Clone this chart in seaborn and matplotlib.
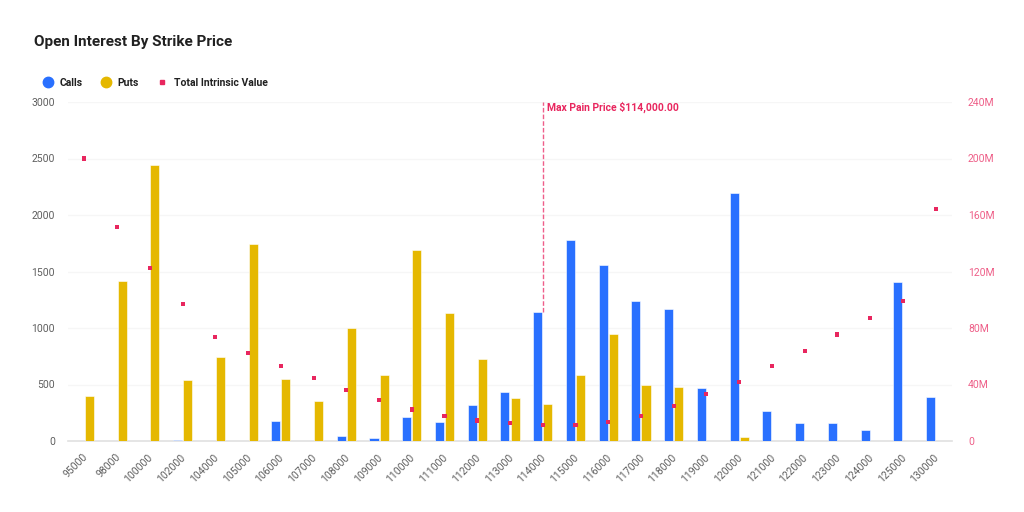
import matplotlib
matplotlib.use("Agg")
import matplotlib.pyplot as plt
import pandas as pd
import seaborn as sns
from matplotlib.lines import Line2D
from matplotlib.ticker import FuncFormatter
from matplotlib.transforms import ScaledTranslation

strikes = ["95000", "98000", "100000", "102000", "104000", "105000", "106000", "107000", "108000",
           "109000", "110000", "111000", "112000", "113000", "114000", "115000", "116000", "117000",
           "118000", "119000", "120000", "121000", "122000", "123000", "124000", "125000", "130000"]
calls = [0, 0, 0, 10, 0, 0, 180, 0, 40, 30, 210, 170, 315, 435, 1140, 1780, 1560, 1240,
         1170, 470, 2195, 265, 155, 160, 95, 1410, 385]
puts = [400, 1420, 2440, 540, 745, 1740, 550, 350, 1000, 580, 1690, 1130, 730, 380, 330, 585, 950, 495,
        480, 0, 35, 0, 0, 0, 0, 0, 0]
# millions
intrinsic = [200, 151.5, 122.5, 97, 73.6, 62.3, 53, 44.6, 36, 29, 22.3, 18, 14.5, 12.7, 11, 11, 13.5, 18,
             24.8, 33.3, 41.8, 53, 63.7, 75.4, 87, 99, 164]
max_pain_strike = "114000"

BLUE = "#2970ff"
GOLD = "#e5b800"
PINK = "#e8265e"
TEXT = "#212121"
TICK = "#5f5f5f"

sns.set_theme(style="white")
plt.rcParams["font.family"] = ["Roboto", "DejaVu Sans"]

bars = pd.DataFrame({"strike": strikes, "Calls": calls, "Puts": puts}).melt(
    id_vars="strike", var_name="side", value_name="oi"
)
dots = pd.DataFrame({"strike": strikes, "value": intrinsic})

fig = plt.figure(figsize=(10.24, 5.12), dpi=100)
ax = fig.add_axes([68 / 1024, 1 - 441 / 512, 884 / 1024, 339 / 512])

sns.barplot(
    data=bars, x="strike", y="oi", hue="side", order=strikes,
    hue_order=["Calls", "Puts"], palette={"Calls": BLUE, "Puts": GOLD},
    width=0.62, gap=0.1, saturation=1, legend=False, ax=ax,
    edgecolor="white", linewidth=0.4, zorder=3,
)
ax.set_xlim(-0.5, len(strikes) - 0.5)
ax.set_ylim(0, 3000)
ax.set_yticks([0, 500, 1000, 1500, 2000, 2500, 3000])
ax.set_xlabel("")
ax.set_ylabel("")
ax.grid(axis="y", color="#f6f6f6", linewidth=1)
ax.set_axisbelow(True)
for side in ["top", "left", "right"]:
    ax.spines[side].set_visible(False)
ax.spines["bottom"].set_color("#e2e2e2")
ax.tick_params(axis="y", length=0, labelsize=7.5, labelcolor=TICK, pad=9.4)
ax.tick_params(axis="x", length=0, labelsize=7.5, labelcolor=TICK, pad=8)
plt.setp(ax.get_xticklabels(), rotation=45, ha="right", rotation_mode="anchor")
# nudge rotated labels 2px left
shift = ScaledTranslation(-2 / 100, 0, fig.dpi_scale_trans)
for label in ax.get_xticklabels():
    label.set_transform(label.get_transform() + shift)

# line stops at the top of the taller bar, it does not run down the bar gap
pain_x = strikes.index(max_pain_strike)
ax.vlines(pain_x, max(calls[pain_x], puts[pain_x]), 3000, color="#ef5f8a", linewidth=1,
          linestyle=(0, (3.3, 1.5)), zorder=1)
ax.text(pain_x + 0.12, 2950, "Max Pain Price $114,000.00", color=PINK, fontsize=7.5,
        fontweight="bold", va="center", ha="left")

ax2 = ax.twinx()
sns.scatterplot(data=dots, x="strike", y="value", marker="s", s=8.5, color=PINK,
                edgecolor="none", legend=False, zorder=5, ax=ax2)
ax2.set_xlim(-0.5, len(strikes) - 0.5)
ax2.set_ylim(0, 240)
ax2.set_yticks([0, 40, 80, 120, 160, 200, 240])
ax2.yaxis.set_major_formatter(FuncFormatter(lambda v, _: "0" if v == 0 else f"{v:.0f}M"))
ax2.set_ylabel("")
ax2.grid(False)
for side in ["top", "left", "right", "bottom"]:
    ax2.spines[side].set_visible(False)
ax2.tick_params(axis="y", length=0, labelsize=7.5, labelcolor="#ee5f88", pad=11.5)

fig.text(34 / 1024, 1 - 42 / 512, "Open Interest By Strike Price", fontsize=11,
         fontweight="bold", color=TEXT, va="center", ha="left")

handles = [
    Line2D([], [], linestyle="none", marker="o", markersize=7.5, color=BLUE, label="Calls"),
    Line2D([], [], linestyle="none", marker="o", markersize=7.5, color=GOLD, label="Puts"),
    Line2D([], [], linestyle="none", marker="s", markersize=2.6, color=PINK, label="Total Intrinsic Value"),
]
leg = fig.legend(handles=handles, loc="center left", bbox_to_anchor=(37.6 / 1024, 1 - 82.5 / 512),
                 ncol=3, frameon=False, fontsize=7.5, handletextpad=0.1, columnspacing=1.25,
                 borderpad=0, borderaxespad=0)
for t in leg.get_texts():
    t.set_fontweight("bold")
    t.set_color(TEXT)

fig.savefig("out.png", dpi=100)
plt.close(fig)
